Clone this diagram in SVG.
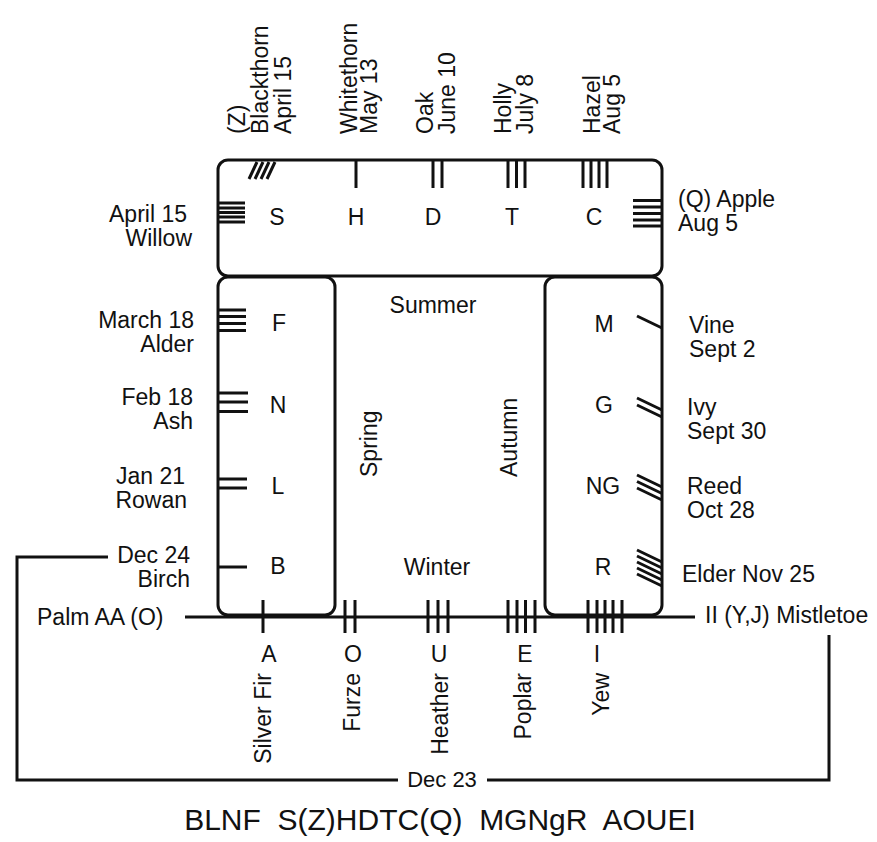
<svg xmlns="http://www.w3.org/2000/svg" width="877" height="842" viewBox="0 0 877 842">
<style>
text{font-family:"Liberation Sans",Arial,sans-serif;font-size:23px;fill:#111}
.box{fill:none;stroke:#111;stroke-width:3}
.tk{stroke:#111;stroke-width:3;fill:none}
.ln{stroke:#111;stroke-width:3;fill:none}
.e{text-anchor:end}
.m{text-anchor:middle}
.big{font-size:30px;white-space:pre}
.sm{font-size:22px}
</style>
<rect width="877" height="842" fill="#fff"/>
<g id="boxes">
<rect id="box-top" class="box" x="218" y="160" width="444" height="116" rx="10"/>
<rect id="box-left" class="box" x="218" y="277" width="117" height="338" rx="10"/>
<rect id="box-right" class="box" x="545" y="277" width="117" height="338" rx="10"/>
</g>
<g id="connectors">
<line class="ln" x1="185" y1="617" x2="695" y2="617" stroke-width="3.5"/>
<polyline class="ln" points="108,557 17,557 17,780 398,780"/>
<polyline class="ln" points="487,780 829,780 829,635"/>
</g>
<g id="seasons">
<text class="m" x="433" y="313">Summer</text>
<text class="m" x="437" y="575">Winter</text>
<text transform="translate(377,477) rotate(-90)">Spring</text>
<text transform="translate(517,477) rotate(-90)">Autumn</text>
</g>
<g id="n-S">
<path class="tk" d="M218 203H245M218 208H245M218 212.5H245M218 217H245M218 222H245"/>
<text class="m" x="277" y="225">S</text>
<text class="e" x="187" y="222">April 15</text>
<text class="e" x="192" y="246">Willow</text>
</g>
<g id="n-Z">
<path class="tk" d="M249 179L257 162M255 179L263 162M261 179L269 162M267 179L275 162"/>
<text transform="translate(245,134) rotate(-90)">(Z)</text>
<text transform="translate(268,134) rotate(-90)">Blackthorn</text>
<text transform="translate(291,134) rotate(-90)">April 15</text>
</g>
<g id="n-H">
<path class="tk" d="M356 160V188"/>
<text class="m" x="356" y="225">H</text>
<text transform="translate(357,134) rotate(-90)">Whitethorn</text>
<text transform="translate(377,134) rotate(-90)">May 13</text>
</g>
<g id="n-D">
<path class="tk" d="M433 160V188M442 160V188"/>
<text class="m" x="433" y="225">D</text>
<text transform="translate(433,134) rotate(-90)">Oak</text>
<text transform="translate(455,134) rotate(-90)">June 10</text>
</g>
<g id="n-T">
<path class="tk" d="M508 160V188M516.5 160V188M525 160V188"/>
<text class="m" x="512" y="225">T</text>
<text transform="translate(511,134) rotate(-90)">Holly</text>
<text transform="translate(533,134) rotate(-90)">July 8</text>
</g>
<g id="n-C">
<path class="tk" d="M583 160V188M591 160V188M599 160V188M607 160V188"/>
<text class="m" x="594" y="225">C</text>
<text transform="translate(600,134) rotate(-90)">Hazel</text>
<text transform="translate(620,134) rotate(-90)">Aug 5</text>
</g>
<g id="n-Q">
<path class="tk" d="M633 200.5H662M633 207H662M633 213.5H662M633 220H662M633 226H662"/>
<text x="678" y="207">(Q) Apple</text>
<text x="678" y="231">Aug 5</text>
</g>
<g id="n-F">
<path class="tk" d="M218 310H246M218 316.5H246M218 323.5H246M218 330.5H246"/>
<text class="m" x="279" y="331">F</text>
<text class="e" x="194" y="328">March 18</text>
<text class="e" x="194" y="352">Alder</text>
</g>
<g id="n-N">
<path class="tk" d="M218 393H248M218 402H248M218 411.5H248"/>
<text class="m" x="278" y="413">N</text>
<text class="e" x="193" y="405">Feb 18</text>
<text class="e" x="193" y="429">Ash</text>
</g>
<g id="n-L">
<path class="tk" d="M218 479H247M218 488H247"/>
<text class="m" x="278" y="494">L</text>
<text class="e" x="185" y="484">Jan 21</text>
<text class="e" x="187" y="508">Rowan</text>
</g>
<g id="n-B">
<path class="tk" d="M218 567H247"/>
<text class="m" x="278" y="574">B</text>
<text class="e" x="190" y="563">Dec 24</text>
<text class="e" x="190" y="587">Birch</text>
</g>
<g id="n-M">
<path class="tk" d="M637 316L662 328"/>
<text class="m" x="604" y="332">M</text>
<text x="689" y="333">Vine</text>
<text x="689" y="357">Sept 2</text>
</g>
<g id="n-G">
<path class="tk" d="M637 398L662 410M637 405L662 417"/>
<text class="m" x="604" y="413">G</text>
<text x="687" y="415">Ivy</text>
<text x="687" y="439">Sept 30</text>
</g>
<g id="n-NG">
<path class="tk" d="M637 475L662 487M637 481.5L662 493.5M637 488L662 500"/>
<text class="m" x="603" y="494">NG</text>
<text x="687" y="494">Reed</text>
<text x="687" y="518">Oct 28</text>
</g>
<g id="n-R">
<path class="tk" d="M637 550L662 562M637 556L662 568M637 562L662 574M637 568L662 580M637 574L662 586"/>
<text class="m" x="603" y="575">R</text>
<text x="682" y="582">Elder Nov 25</text>
</g>
<g id="n-AA">
<text x="37" y="625">Palm AA (O)</text>
</g>
<g id="n-II">
<text x="705" y="623">II (Y,J) Mistletoe</text>
</g>
<g id="n-A">
<path class="tk" d="M263 600V633"/>
<text class="m" x="269" y="662">A</text>
<text class="e" transform="translate(271,673) rotate(-90)">Silver Fir</text>
</g>
<g id="n-O">
<path class="tk" d="M345 600V633M355 600V633"/>
<text class="m" x="353" y="662">O</text>
<text class="e" transform="translate(360,673) rotate(-90)">Furze</text>
</g>
<g id="n-U">
<path class="tk" d="M428 600V633M438 600V633M448 600V633"/>
<text class="m" x="439" y="662">U</text>
<text class="e" transform="translate(448,673) rotate(-90)">Heather</text>
</g>
<g id="n-E">
<path class="tk" d="M508 600V633M517 600V633M525.5 600V633M535 600V633"/>
<text class="m" x="525" y="662">E</text>
<text class="e" transform="translate(531,673) rotate(-90)">Poplar</text>
</g>
<g id="n-I">
<path class="tk" d="M588 600V633M597 600V633M605 600V633M613 600V633M622 600V633"/>
<text class="m" x="597" y="662">I</text>
<text class="e" transform="translate(609,673) rotate(-90)">Yew</text>
</g>
<text class="m sm" x="442" y="787">Dec 23</text>
<text class="m big" x="440" y="830">BLNF  S(Z)HDTC(Q)  MGNgR  AOUEI</text>
</svg>
